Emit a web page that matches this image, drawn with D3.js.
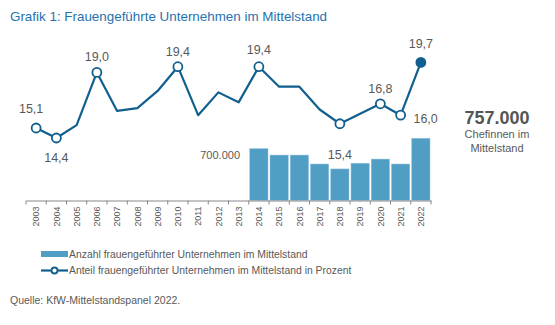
<!DOCTYPE html>
<html><head><meta charset="utf-8">
<script src="https://cdn.jsdelivr.net/npm/d3@7"></script>
<style>body{margin:0;background:#fff;}svg{display:block;font-family:"Liberation Sans",Arial,sans-serif;}</style>
</head><body>
<svg id="c" width="555" height="325"></svg>
<script>
const years = ["2003","2004","2005","2006","2007","2008","2009","2010","2011","2012","2013","2014","2015","2016","2017","2018","2019","2020","2021","2022"];
const shareValues = [15.1,14.4,15.3,19.0,16.3,16.5,17.7,19.4,16.0,17.6,16.9,19.4,18.0,18.0,16.4,15.4,16.1,16.8,16.0,19.7];
const barYears = ["2014","2015","2016","2017","2018","2019","2020","2021","2022"];
const countValues = [700,665,665,616,589,620,643,616,757]; // thousands
const markedYears = ["2003","2004","2006","2010","2014","2018","2020","2021","2022"];
const shareLabels = [
  {year:"2003", text:"15,1", dx:-5, dy:-15},
  {year:"2004", text:"14,4", dx:0, dy:24},
  {year:"2006", text:"19,0", dx:0, dy:-11},
  {year:"2010", text:"19,4", dx:0, dy:-11},
  {year:"2014", text:"19,4", dx:0, dy:-13},
  {year:"2018", text:"15,4", dx:0, dy:35},
  {year:"2020", text:"16,8", dx:0, dy:-11},
  {year:"2021", text:"16,0", dx:25, dy:8},
  {year:"2022", text:"19,7", dx:0, dy:-14}
];

const svg = d3.select("#c");
const lineColor = "#115f8f", barColor = "#519ec5", textColor = "#595959";

svg.append("text").attr("x",10).attr("y",21).attr("font-size",13.4).attr("fill","#1f73b0")
  .text("Grafik 1: Frauengeführte Unternehmen im Mittelstand");

const x = d3.scaleBand().domain(years).range([26,431]).paddingInner(0.1).paddingOuter(0.05);
const yLine = d3.scaleLinear().domain([14.4,19.4]).range([138,66.7]);
const yBar = d3.scaleLinear().domain([417,757]).range([200.3,138.3]);

// bars
svg.append("g").selectAll("rect").data(barYears.map((y,i)=>({y,v:countValues[i]}))).join("rect")
  .attr("x",d=>x(d.y)).attr("width",x.bandwidth())
  .attr("y",d=>yBar(d.v)).attr("height",d=>yBar.range()[0]-yBar(d.v))
  .attr("fill",barColor).attr("stroke","#8cc0dc").attr("stroke-width",0.5);

// axis
const xAxisScale = d3.scaleBand().domain(years).range([26,431]);
const axis = svg.append("g").attr("transform","translate(0,200.5)")
  .call(d3.axisBottom(xAxisScale).tickSize(0).tickPadding(0));
axis.select(".domain").attr("stroke","#888");
axis.selectAll(".tick text").attr("transform","rotate(-90)").attr("text-anchor","end")
  .attr("x",-6).attr("y",0).attr("dy","0.35em").attr("font-size",9).attr("fill",textColor)
  .attr("font-family","Liberation Sans, Arial, sans-serif");
axis.selectAll(".boundary").data(years.concat(["end"])).join("line")
  .attr("x1",(d,i)=>26+i*xAxisScale.step()).attr("x2",(d,i)=>26+i*xAxisScale.step())
  .attr("y1",0).attr("y2",4).attr("stroke","#888");

// line
const pts = years.map((y,i)=>({y,v:shareValues[i]}));
const xm = d => xAxisScale(d)+xAxisScale.bandwidth()/2;
svg.append("path").datum(pts).attr("fill","none").attr("stroke",lineColor).attr("stroke-width",2.2)
  .attr("stroke-linejoin","round")
  .attr("d",d3.line().x(d=>xm(d.y)).y(d=>yLine(d.v)));
svg.append("g").selectAll("circle").data(pts.filter(p=>markedYears.includes(p.y))).join("circle")
  .attr("cx",d=>xm(d.y)).attr("cy",d=>yLine(d.v)).attr("r",4.5)
  .attr("fill",d=>d.y==="2022"?lineColor:"#fff").attr("stroke",lineColor).attr("stroke-width",1.8);

svg.append("g").selectAll("text").data(shareLabels).join("text")
  .attr("x",d=>xm(d.year)+d.dx).attr("y",d=>yLine(shareValues[years.indexOf(d.year)])+d.dy)
  .attr("text-anchor","middle").attr("font-size",12.5).attr("fill",textColor).text(d=>d.text);

svg.append("text").attr("x",240).attr("y",159).attr("text-anchor","end").attr("font-size",11)
  .attr("fill",textColor).text("700.000");

// right annotation
svg.append("text").attr("x",497).attr("y",124).attr("text-anchor","middle").attr("font-size",18)
  .attr("font-weight","bold").attr("fill","#555").text("757.000");
svg.append("text").attr("x",497).attr("y",138).attr("text-anchor","middle").attr("font-size",11)
  .attr("fill",textColor).text("Chefinnen im");
svg.append("text").attr("x",497).attr("y",152).attr("text-anchor","middle").attr("font-size",11)
  .attr("fill",textColor).text("Mittelstand");

// legend
svg.append("rect").attr("x",41).attr("y",251).attr("width",27).attr("height",6).attr("fill",barColor);
svg.append("text").attr("x",69).attr("y",258).attr("font-size",10.4).attr("fill",textColor)
  .text("Anzahl frauengeführter Unternehmen im Mittelstand");
svg.append("line").attr("x1",41).attr("x2",68).attr("y1",270.5).attr("y2",270.5).attr("stroke",lineColor).attr("stroke-width",2.2);
svg.append("circle").attr("cx",54.5).attr("cy",270.5).attr("r",3).attr("fill","#fff").attr("stroke",lineColor).attr("stroke-width",1.8);
svg.append("text").attr("x",69).attr("y",274).attr("font-size",10.4).attr("fill",textColor)
  .text("Anteil frauengeführter Unternehmen im Mittelstand in Prozent");

svg.append("text").attr("x",10).attr("y",304).attr("font-size",10.5).attr("fill",textColor)
  .text("Quelle: KfW-Mittelstandspanel 2022.");
</script>
</body></html>
